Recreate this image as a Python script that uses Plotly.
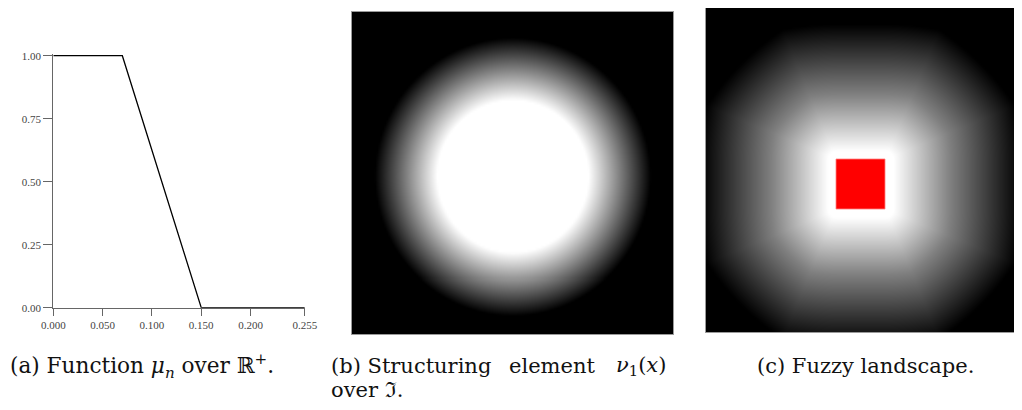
import numpy as np
import plotly.graph_objects as go

W, H = 1022, 410
OFF = 8  # page body margin offset of the figure

# ---------- (a) membership function mu_n over R+ ----------
mu_x = [0.0, 0.07, 0.15, 0.255]
mu_y = [1.0, 1.0, 0.0, 0.0]
x_tickvals = [0.0, 0.05, 0.10, 0.15, 0.20, 0.255]
x_ticktext = ["0.000", "0.050", "0.100", "0.150", "0.200", "0.255"]
y_tickvals = [0.0, 0.25, 0.50, 0.75, 1.0]
y_ticktext = ["0.00", "0.25", "0.50", "0.75", "1.00"]

# ---------- (b) structuring element: radial profile (radius as image fraction) ----------
nu_radius = [0.0, 0.236, 0.43, 0.80]
nu_value = [1.0, 1.0, 0.0, 0.0]
nu_center = [0.5, 0.51]
nu_cells = 161

# ---------- (c) fuzzy landscape around the reference square (image pixels) ----------
land_size = 327
ref_square = [130, 154, 179, 204]  # x0, y0, x1, y1
land_dist = [0.0, 8.0, 65.0, 135.0, 500.0]
land_value = [1.0, 1.0, 0.5, 0.0, 0.0]
land_step = 2

# build the structuring element image
u = (np.arange(nu_cells) + 0.5) / nu_cells
UX, UY = np.meshgrid(u, u)
R = np.sqrt((UX - nu_center[0]) ** 2 + (UY - nu_center[1]) ** 2)
z_nu = np.interp(R, nu_radius, nu_value)

# build the fuzzy landscape (blend of octagonal and euclidean distance to the square)
p = np.arange(0, land_size, land_step) + land_step / 2
PX, PY = np.meshgrid(p, p)
ax_ = np.maximum(0, np.maximum(ref_square[0] - PX, PX - ref_square[2]))
ay_ = np.maximum(0, np.maximum(ref_square[1] - PY, PY - ref_square[3]))
D_oct = np.maximum(np.maximum(ax_, ay_), (ax_ + ay_) / np.sqrt(2))
D_euc = np.sqrt(ax_ ** 2 + ay_ ** 2)
D = 0.5 * (D_oct + D_euc)
z_land = np.interp(D, land_dist, land_value)

gray = [[0, "black"], [1, "white"]]

fig = go.Figure()

# (a)
fig.add_trace(go.Scatter(x=mu_x, y=mu_y, mode="lines",
                         line=dict(color="black", width=1.3),
                         xaxis="x", yaxis="y", showlegend=False, hoverinfo="skip"))
# (b)
fig.add_trace(go.Heatmap(z=z_nu, x=u, y=u, colorscale=gray, zmin=0, zmax=1,
                         showscale=False, zsmooth="best", xaxis="x2", yaxis="y2",
                         hoverinfo="skip"))
# (c)
fig.add_trace(go.Heatmap(z=z_land, x=p, y=p, colorscale=gray, zmin=0, zmax=1,
                         showscale=False, zsmooth="best", xaxis="x3", yaxis="y3",
                         hoverinfo="skip"))

fig.add_shape(type="rect", xref="x3", yref="y3",
              x0=ref_square[0], y0=ref_square[1], x1=ref_square[2], y1=ref_square[3],
              fillcolor="#ff0000", line=dict(width=0.8, color="#ff8080"), layer="above")

def fx(a):
    return (a - OFF) / W

def fy(a):
    return 1 - (a - OFF) / H

def px_x(a, b):
    return [max(0.0, fx(a)), min(1.0, fx(b))]

def px_y(top, bottom):
    return [max(0.0, fy(bottom)), min(1.0, fy(top))]

tickfont = dict(family="Liberation Serif", size=11, color="#444444")
ymax = 1.006
top_a = 307.7 - (307.7 - 55.7) * ymax

# panel (c): visible part of the landscape within the figure
c_left, c_top, c_bottom = 706, 5, 332
c_scale = (c_bottom - c_top) / land_size           # page px per image px
c_top_vis = max(c_top, OFF)
c_y_hidden = (c_top_vis - c_top) / c_scale
c_right_page = OFF + W
c_x_vis = (c_right_page - c_left) / c_scale

fig.update_layout(
    width=W, height=H,
    margin=dict(l=0, r=0, t=0, b=0, pad=0, autoexpand=False),
    showlegend=False,
    paper_bgcolor="white", plot_bgcolor="white",
    xaxis=dict(domain=px_x(53.3, 304.8), range=[0, 0.255], automargin=False,
               tickvals=x_tickvals, ticktext=x_ticktext, ticks="outside",
               ticklen=7, tickcolor="#666666", tickwidth=1,
               showline=True, linecolor="#666666", linewidth=1,
               showgrid=False, zeroline=False, tickfont=tickfont, anchor="y"),
    yaxis=dict(domain=px_y(top_a, 307.7), range=[0, ymax], automargin=False,
               tickvals=y_tickvals, ticktext=y_ticktext, ticks="outside",
               ticklen=9, tickcolor="#666666", tickwidth=1,
               showline=True, linecolor="#666666", linewidth=1,
               showgrid=False, zeroline=False, tickfont=tickfont, anchor="x"),
    xaxis2=dict(domain=px_x(352, 673), range=[0, 1], automargin=False,
                showticklabels=False, ticks="", showgrid=False, zeroline=False,
                showline=True, mirror=True, linecolor="#9a9a9a", linewidth=1, anchor="y2"),
    yaxis2=dict(domain=px_y(11.7, 334.3), range=[1, 0], automargin=False,
                showticklabels=False, ticks="", showgrid=False, zeroline=False,
                showline=True, mirror=True, linecolor="#9a9a9a", linewidth=1, anchor="x2"),
    xaxis3=dict(domain=px_x(c_left, c_right_page), range=[0, c_x_vis],
                automargin=False,
                showticklabels=False, ticks="", showgrid=False, zeroline=False,
                showline=True, mirror=False, linecolor="#9a9a9a", linewidth=1, anchor="y3"),
    yaxis3=dict(domain=px_y(c_top_vis, c_bottom), range=[land_size, c_y_hidden],
                automargin=False,
                showticklabels=False, ticks="", showgrid=False, zeroline=False,
                showline=True, mirror=False, linecolor="#9a9a9a", linewidth=1, anchor="x3"),
)

cap_font = dict(family="DejaVu Serif", size=21, color="#111111")

def cap(text, x, y, xanchor="left", size=None):
    f = dict(cap_font)
    if size:
        f["size"] = size
    fig.add_annotation(text=text, x=fx(x), y=fy(y), xref="paper", yref="paper",
                       xanchor=xanchor, yanchor="middle", showarrow=False,
                       font=f)

cap("(a) Function <i>μ<sub>n</sub></i> over ℝ<sup>+</sup>.", 8, 366, size=21.6)
cap("(b) Structuring", 329, 366)
cap("element", 552, 366, "center")
cap("<i>ν</i><sub>1</sub>(<i>x</i>)", 668, 366, "right")
cap("over ℑ.", 329, 390)
cap("(c) Fuzzy landscape.", 865, 366, "center")

fig.write_html("out.html")
